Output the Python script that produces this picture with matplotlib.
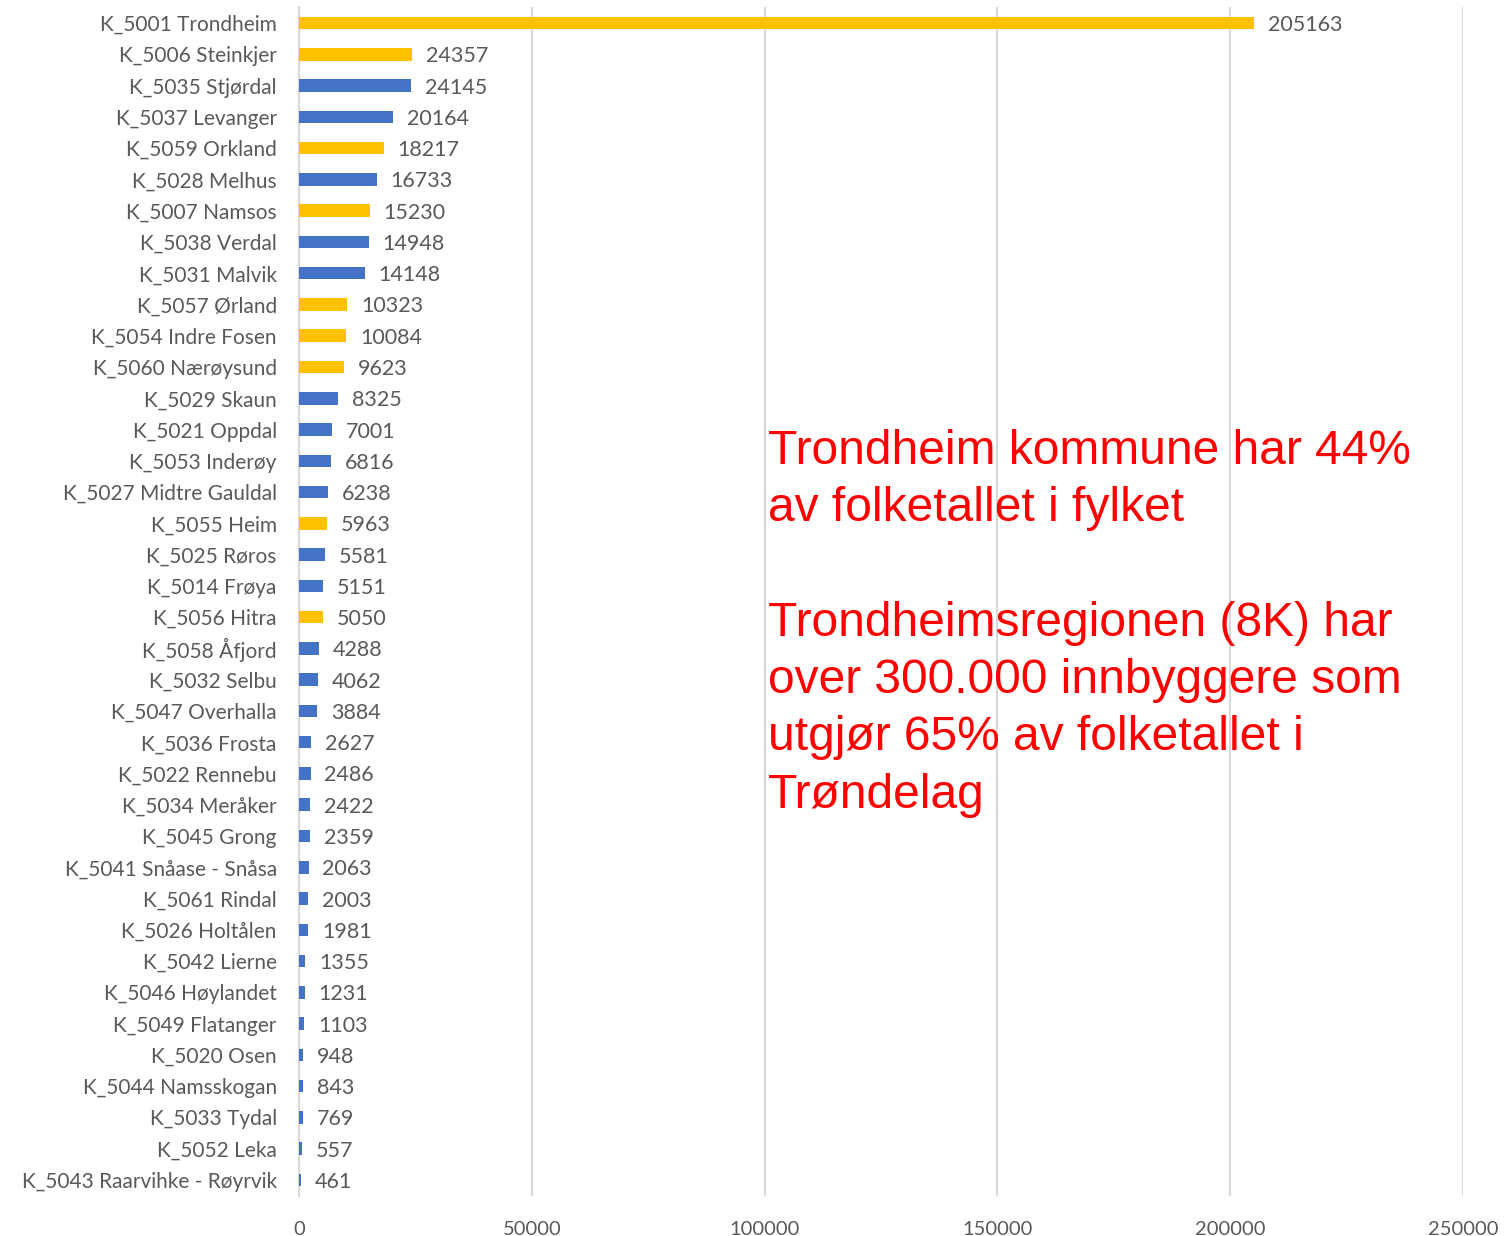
import matplotlib
matplotlib.use("Agg")
import matplotlib.pyplot as plt
from matplotlib.ticker import MultipleLocator

names = [
    "K_5001 Trondheim", "K_5006 Steinkjer", "K_5035 Stjørdal", "K_5037 Levanger",
    "K_5059 Orkland", "K_5028 Melhus", "K_5007 Namsos", "K_5038 Verdal",
    "K_5031 Malvik", "K_5057 Ørland", "K_5054 Indre Fosen", "K_5060 Nærøysund",
    "K_5029 Skaun", "K_5021 Oppdal", "K_5053 Inderøy", "K_5027 Midtre Gauldal",
    "K_5055 Heim", "K_5025 Røros", "K_5014 Frøya", "K_5056 Hitra",
    "K_5058 Åfjord", "K_5032 Selbu", "K_5047 Overhalla", "K_5036 Frosta",
    "K_5022 Rennebu", "K_5034 Meråker", "K_5045 Grong", "K_5041 Snåase - Snåsa",
    "K_5061 Rindal", "K_5026 Holtålen", "K_5042 Lierne", "K_5046 Høylandet",
    "K_5049 Flatanger", "K_5020 Osen", "K_5044 Namsskogan", "K_5033 Tydal",
    "K_5052 Leka", "K_5043 Raarvihke - Røyrvik",
]
population = [
    205163, 24357, 24145, 20164, 18217, 16733, 15230, 14948, 14148, 10323,
    10084, 9623, 8325, 7001, 6816, 6238, 5963, 5581, 5151, 5050,
    4288, 4062, 3884, 2627, 2486, 2422, 2359, 2063, 2003, 1981,
    1355, 1231, 1103, 948, 843, 769, 557, 461,
]
highlighted = {
    "K_5001 Trondheim", "K_5006 Steinkjer", "K_5059 Orkland", "K_5007 Namsos",
    "K_5057 Ørland", "K_5054 Indre Fosen", "K_5060 Nærøysund", "K_5055 Heim",
    "K_5056 Hitra",
}

GOLD = "#FFC000"
BLUE = "#4472C4"
GREY_TEXT = "#595959"
GRID = "#D9D9D9"
FONT = ["Lato", "DejaVu Sans"]

colors = [GOLD if n in highlighted else BLUE for n in names]

fig = plt.figure(figsize=(15.04, 12.36), dpi=100)
ax = fig.add_axes([0.1988, 0.0327, 0.7739, 0.9613])

y = list(range(len(names)))
ax.barh(y, population, height=0.4, color=colors, zorder=3)
ax.set_ylim(len(names) - 0.5, -0.5)
ax.set_xlim(0, 250000)
ax.xaxis.set_major_locator(MultipleLocator(50000))

ax.set_yticks(y)
ax.set_yticklabels(names, fontsize=15, color=GREY_TEXT, family=FONT)
for lbl in ax.get_xticklabels():
    lbl.set_fontsize(14.5)
    lbl.set_color(GREY_TEXT)
    lbl.set_family(FONT)
ax.tick_params(axis="y", length=0, pad=16)
ax.tick_params(axis="x", length=0, pad=18)

ax.grid(axis="x", color=GRID, linewidth=1.5, zorder=0)
for side in ["top", "right", "bottom"]:
    ax.spines[side].set_visible(False)
ax.spines["left"].set_color(GRID)
ax.spines["left"].set_linewidth(1.5)

for yi, v in zip(y, population):
    ax.annotate(f"{v}", xy=(v, yi), xytext=(10, 0), textcoords="offset points",
                va="center_baseline", ha="left", fontsize=15.5, color=GREY_TEXT,
                family=FONT)

note = ("Trondheim kommune har 44%\nav folketallet i fylket\n\n"
        "Trondheimsregionen (8K) har\nover 300.000 innbyggere som\n"
        "utgjør 65% av folketallet i\nTrøndelag")
fig.text(768 / 1504, 1 - 429 / 1236, note, ha="left", va="top", fontsize=34.5,
         color="#FF0000", family=["Liberation Sans", "DejaVu Sans"], linespacing=1.35)

fig.savefig("out.png", dpi=100)
